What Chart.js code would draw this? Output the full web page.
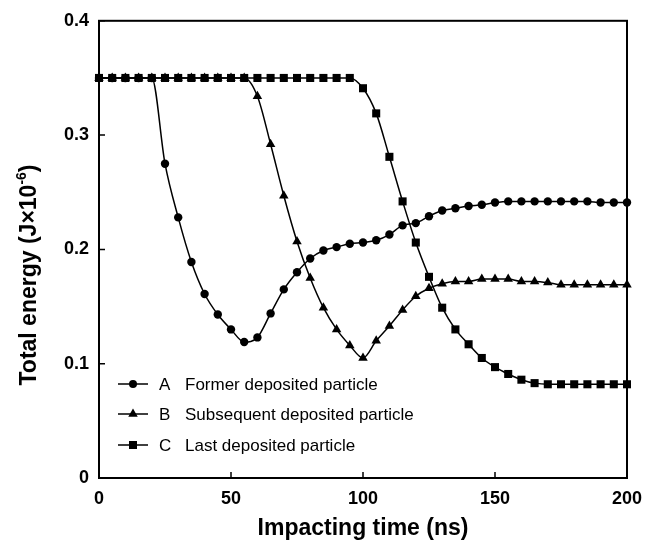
<!DOCTYPE html>
<html>
<head>
<meta charset="utf-8">
<script src="https://cdn.jsdelivr.net/npm/chart.js@4/dist/chart.umd.min.js"></script>
<style>
  html, body { margin: 0; padding: 0; background: #fff; }
</style>
</head>
<body>
<canvas id="chart" width="658" height="542"></canvas>
<script>
// Values
const times = [0, 5, 10, 15, 20, 25, 30, 35, 40, 45, 50, 55, 60, 65, 70, 75, 80, 85, 90, 95,
  100, 105, 110, 115, 120, 125, 130, 135, 140, 145, 150, 155, 160, 165, 170, 175, 180, 185, 190, 195, 200];

const formerA = [0.35, 0.35, 0.35, 0.35, 0.35, 0.275, 0.228, 0.189, 0.161, 0.143, 0.130, 0.119, 0.123, 0.144,
  0.165, 0.180, 0.192, 0.199, 0.202, 0.205, 0.206, 0.208, 0.213, 0.221, 0.223, 0.229, 0.234, 0.236,
  0.238, 0.239, 0.241, 0.242, 0.242, 0.242, 0.242, 0.242, 0.242, 0.242, 0.241, 0.241, 0.241];

const subsequentB = [0.35, 0.35, 0.35, 0.35, 0.35, 0.35, 0.35, 0.35, 0.35, 0.35, 0.35, 0.35, 0.334, 0.292,
  0.247, 0.207, 0.175, 0.149, 0.130, 0.116, 0.105, 0.120, 0.133, 0.147, 0.159, 0.166, 0.170, 0.172,
  0.172, 0.174, 0.174, 0.174, 0.172, 0.172, 0.171, 0.169, 0.169, 0.169, 0.169, 0.169, 0.169];

const lastC = [0.35, 0.35, 0.35, 0.35, 0.35, 0.35, 0.35, 0.35, 0.35, 0.35, 0.35, 0.35, 0.35, 0.35, 0.35,
  0.35, 0.35, 0.35, 0.35, 0.35, 0.341, 0.319, 0.281, 0.242, 0.206, 0.176, 0.149, 0.130, 0.117, 0.105,
  0.097, 0.091, 0.086, 0.083, 0.082, 0.082, 0.082, 0.082, 0.082, 0.082, 0.082];

const legendLetters = ['A', 'B', 'C'];
const legendNames = ['Former deposited particle', 'Subsequent deposited particle', 'Last deposited particle'];
const xTicks = [0, 50, 100, 150, 200];
const yTicks = [0, 0.1, 0.2, 0.3, 0.4];

const black = '#000';
const fontFamily = '"Liberation Sans", Arial, Helvetica, sans-serif';

const pts = (ys) => times.map((t, i) => ({ x: t, y: ys[i] }));

function marker(ctx, style, x, y) {
  ctx.beginPath();
  if (style === 'circle') {
    ctx.arc(x, y, 4, 0, Math.PI * 2);
  } else if (style === 'triangle') {
    const r = 5.5;
    let a = 0;
    ctx.moveTo(x + Math.sin(a) * r, y - Math.cos(a) * r);
    a += Math.PI * 2 / 3;
    ctx.lineTo(x + Math.sin(a) * r, y - Math.cos(a) * r);
    a += Math.PI * 2 / 3;
    ctx.lineTo(x + Math.sin(a) * r, y - Math.cos(a) * r);
    ctx.closePath();
  } else {
    ctx.rect(x - 4, y - 4, 8, 8);
  }
  ctx.fill();
}

// frame, inward ticks, axis titles and the legend inside the plot
const decorations = {
  id: 'decorations',
  afterDraw(chart) {
    const { ctx, chartArea: a, scales } = chart;
    ctx.save();
    ctx.strokeStyle = black;
    ctx.lineWidth = 2;
    ctx.strokeRect(a.left, a.top, a.right - a.left, a.bottom - a.top);

    ctx.lineWidth = 1.5;
    ctx.beginPath();
    xTicks.forEach(v => {
      const x = scales.x.getPixelForValue(v);
      ctx.moveTo(x, a.bottom);
      ctx.lineTo(x, a.bottom - 6);
    });
    yTicks.forEach(v => {
      const y = scales.y.getPixelForValue(v);
      ctx.moveTo(a.left, y);
      ctx.lineTo(a.left + 6, y);
    });
    ctx.stroke();

    ctx.fillStyle = black;
    // x title
    ctx.font = 'bold 23px ' + fontFamily;
    ctx.textAlign = 'center';
    ctx.textBaseline = 'alphabetic';
    ctx.fillText('Impacting time (ns)', (a.left + a.right) / 2, 535);

    // y title with superscript
    ctx.save();
    ctx.translate(36, 275);
    ctx.rotate(-Math.PI / 2);
    const big = 'bold 23px ' + fontFamily;
    const small = 'bold 14px ' + fontFamily;
    const p1 = 'Total energy (J\u00d710', p2 = '-6', p3 = ')';
    ctx.font = big;
    const w1 = ctx.measureText(p1).width, w3 = ctx.measureText(p3).width;
    ctx.font = small;
    const w2 = ctx.measureText(p2).width;
    let x0 = -(w1 + w2 + w3) / 2;
    ctx.textAlign = 'left';
    ctx.font = big;
    ctx.fillText(p1, x0, 0);
    ctx.font = small;
    ctx.fillText(p2, x0 + w1, -10);
    ctx.font = big;
    ctx.fillText(p3, x0 + w1 + w2, 0);
    ctx.restore();

    // legend
    const styles = ['circle', 'triangle', 'rect'];
    const rowY = [384, 414, 445];
    ctx.font = '17px ' + fontFamily;
    ctx.textBaseline = 'middle';
    ctx.textAlign = 'left';
    rowY.forEach((y, i) => {
      ctx.lineWidth = 1.5;
      ctx.beginPath();
      ctx.moveTo(118, y);
      ctx.lineTo(148, y);
      ctx.stroke();
      marker(ctx, styles[i], 133, y);
      ctx.fillText(legendLetters[i], 159, y + 1);
      ctx.fillText(legendNames[i], 185, y + 1);
    });
    ctx.restore();
  }
};

const common = {
  borderColor: black,
  backgroundColor: black,
  borderWidth: 1.5,
  pointBorderWidth: 0,
  pointBackgroundColor: black,
  cubicInterpolationMode: 'monotone',
  clip: false
};

new Chart(document.getElementById('chart'), {
  type: 'line',
  data: {
    datasets: [
      { ...common, label: legendNames[0], data: pts(formerA), pointStyle: 'circle', pointRadius: 4.2, order: 3 },
      { ...common, label: legendNames[1], data: pts(subsequentB), pointStyle: 'triangle', pointRadius: 5.5, order: 2 },
      { ...common, label: legendNames[2], data: pts(lastC), pointStyle: 'rect', pointRadius: 5.7, order: 1 }
    ]
  },
  options: {
    responsive: false,
    animation: false,
    devicePixelRatio: 1,
    layout: { padding: { top: 17, right: 31, left: 0, bottom: 0 } },
    plugins: { legend: { display: false }, tooltip: { enabled: false } },
    scales: {
      x: {
        type: 'linear',
        min: 0,
        max: 200,
        afterFit: s => { s.height = 64; },
        afterBuildTicks: s => { s.ticks = xTicks.map(v => ({ value: v })); },
        grid: { display: false, drawTicks: false },
        border: { display: false },
        ticks: { color: black, padding: 10, maxRotation: 0, font: { family: fontFamily, size: 18, weight: 'bold' } }
      },
      y: {
        min: 0,
        max: 0.4,
        afterFit: s => { s.width = 99; },
        afterBuildTicks: s => { s.ticks = yTicks.map(v => ({ value: v })); },
        grid: { display: false, drawTicks: false },
        border: { display: false },
        ticks: {
          color: black, padding: 10,
          font: { family: fontFamily, size: 18, weight: 'bold' },
          callback: v => (v === 0 ? '0' : v.toFixed(1))
        }
      }
    }
  },
  plugins: [decorations]
});
</script>
</body>
</html>
